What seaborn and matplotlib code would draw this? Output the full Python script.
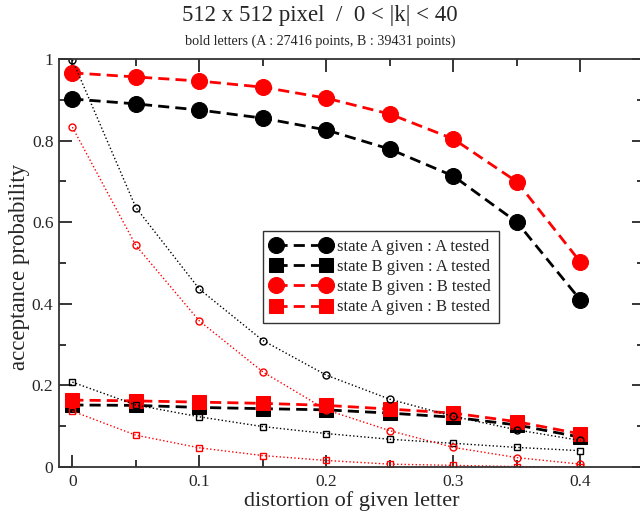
import numpy as np
import pandas as pd
import matplotlib
matplotlib.use("Agg")
import matplotlib.pyplot as plt
import seaborn as sns
from matplotlib.ticker import MultipleLocator

# ----------------------------------
# Data
# ----------------------------------

distortion = [0.0, 0.05, 0.1, 0.15, 0.2, 0.25, 0.3, 0.35, 0.4]

# bold series (legend)
a_given_a_tested = [0.902, 0.890, 0.875, 0.855, 0.826, 0.779, 0.713, 0.600, 0.409]
b_given_a_tested = [0.152, 0.151, 0.146, 0.143, 0.140, 0.132, 0.122, 0.103, 0.073]
b_given_b_tested = [0.966, 0.956, 0.946, 0.931, 0.904, 0.865, 0.804, 0.699, 0.502]
a_given_b_tested = [0.164, 0.162, 0.159, 0.156, 0.151, 0.142, 0.132, 0.111, 0.081]

# thin dotted series (no legend)
thin_black_circle = [0.998, 0.636, 0.436, 0.310, 0.225, 0.166, 0.124, 0.091, 0.065]
thin_black_square = [0.208, 0.152, 0.123, 0.099, 0.082, 0.068, 0.058, 0.048, 0.040]
thin_red_circle = [0.833, 0.543, 0.358, 0.233, 0.140, 0.089, 0.048, 0.023, 0.007]
thin_red_square = [0.137, 0.078, 0.047, 0.028, 0.016, 0.007, 0.004, 0.001, 0.000]

labels = [
    "state A given : A tested",
    "state B given : A tested",
    "state B given : B tested",
    "state A given : B tested",
]

# ----------------------------------
# Style
# ----------------------------------

sns.set_style("ticks")
plt.rcParams["font.family"] = ["Liberation Serif", "DejaVu Serif"]

fig = plt.figure(figsize=(6.4, 5.18), dpi=100)
ax = fig.add_axes([59 / 640, 1 - 467 / 518, 585 / 640, 408 / 518])

dash = (0, (4, 2.2))

bold = [
    (a_given_a_tested, "black", "o", 11.5, labels[0]),
    (b_given_a_tested, "black", "s", 10, labels[1]),
    (b_given_b_tested, "red", "o", 11.5, labels[2]),
    (a_given_b_tested, "red", "s", 10, labels[3]),
]

for vals, col, mk, ms, lab in bold:
    sns.lineplot(
        x=distortion, y=vals, ax=ax,
        color=col, marker=mk, markersize=ms,
        markeredgecolor=col, markerfacecolor=col,
        linestyle=dash, linewidth=2.0, label=lab,
    )

thin = [
    (thin_black_circle, "black", "o"),
    (thin_black_square, "black", "s"),
    (thin_red_circle, "red", "o"),
    (thin_red_square, "red", "s"),
]

for vals, col, mk in thin:
    sns.lineplot(
        x=distortion, y=vals, ax=ax,
        color=col, marker=mk, markersize=5,
        markeredgecolor=col, markerfacecolor="none", markeredgewidth=1.0,
        linestyle=":", linewidth=1.0, legend=False,
    )

# ----------------------------------
# Axes
# ----------------------------------

ax.set_xlim(-0.0105, 0.45)
ax.set_ylim(0, 1)

ax.set_xticks([0, 0.1, 0.2, 0.3, 0.4])
ax.set_xticklabels(["0", "0.1", "0.2", "0.3", "0.4"])
ax.set_yticks([0, 0.2, 0.4, 0.6, 0.8, 1.0])
ax.set_yticklabels(["0", "0.2", "0.4", "0.6", "0.8", "1"])
ax.xaxis.set_minor_locator(MultipleLocator(0.05))
ax.yaxis.set_minor_locator(MultipleLocator(0.1))

ax.tick_params(which="both", direction="in", top=True, right=True,
               width=1.3, labelsize=12.5)
ax.tick_params(axis="x", pad=5)
ax.tick_params(axis="y", pad=4)
ax.tick_params(which="major", length=9)
ax.tick_params(which="minor", length=5)

for s in ax.spines.values():
    s.set_linewidth(1.3)
    s.set_color("#333333")

ax.set_xlabel("distortion of given letter", fontsize=16)
ax.set_ylabel("acceptance probability", fontsize=16.5)
ax.xaxis.set_label_coords(0.5, -0.06)
ax.yaxis.set_label_coords(-0.05, 0.49)

fig.text(0.5, 1 - 16 / 518, "512 x 512 pixel  /  0 < |k| < 40",
         ha="center", va="center", fontsize=16.5)
fig.text(0.5, 1 - 41 / 518, "bold letters (A : 27416 points, B : 39431 points)",
         ha="center", va="center", fontsize=10.2)

leg = ax.legend(
    loc="lower left", bbox_to_anchor=(0.349, 0.353),
    fontsize=12, numpoints=2, handlelength=3.6,
    frameon=True, fancybox=False, framealpha=1,
    edgecolor="#333333", borderpad=0.45, labelspacing=0.25,
    handletextpad=0.4, borderaxespad=0,
)
leg.get_frame().set_linewidth(1.0)

plt.savefig("out.png", dpi=100)
plt.close()
